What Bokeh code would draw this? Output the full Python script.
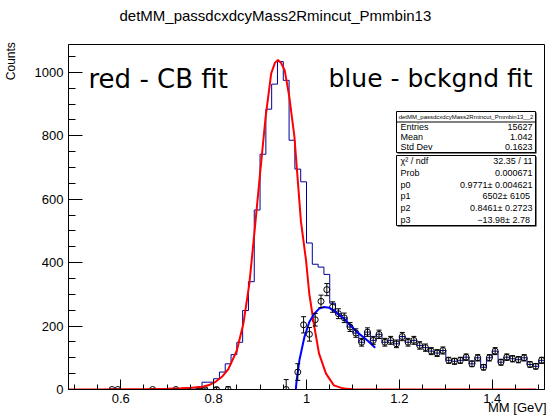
import numpy as np
from bokeh.plotting import figure
from bokeh.models import (Range1d, FixedTicker, CustomJSTickFormatter, Label, Title,
                          BoxAnnotation, ColumnDataSource, Whisker, TeeHead)
from bokeh.embed import file_html
from bokeh.resources import INLINE

# ---------------- data ----------------
title_text = "detMM_passdcxdcyMass2Rmincut_Pmmbin13"
x_label = "MM [GeV]"
y_label = "Counts"

x_lo, x_hi = 0.4875, 1.5125          # histogram axis limits (82 bins of 0.0125)
y_hi = 1088

# main histogram bin contents (82 bins)
hist_counts = [0, 0, 0, 0, 0, 0, 0, 1, 1, 0,
               0, 0, 0, 0, 1, 0, 1, 1, 2, 2,
               3, 5, 7, 23, 23, 34, 55, 81, 110, 149,
               249, 340, 566, 742, 884, 963, 1034, 975, 786, 695,
               655, 462, 395, 386, 363, 272,
               239, 226, 197, 178, 149, 181, 155, 174, 149, 155,
               144, 167, 149, 155, 139, 132, 121, 115, 123, 92,
               89, 92, 102, 81, 100, 70, 100, 121, 86, 102,
               97, 94, 100, 79, 73, 92]

# residual (histogram minus CB fit) points, None = not drawn
N = None
resid = [N, N, N, N, N, N, N, 0, 0, N,
         N, N, N, N, 0, N, N, N, 0, N,
         N, N, 0, 0, N, 0, N, 0, N, N,
         N, N, N, N, N, N, N, 0, N, 55,
         204, 174, 220, 278, 315, 260,
         239, 226, 197, 178, 149, 181, 155, 174, 149, 155,
         144, 167, 149, 155, 139, 132, 121, 115, 123, 92,
         89, 92, 102, 81, 100, 70, 100, 121, 86, 102,
         97, 94, 100, 79, 73, 92]

# red Crystal-Ball fit curve
cb_x = [0.4875, 0.55, 0.60, 0.65, 0.70, 0.73, 0.75, 0.775, 0.79, 0.803, 0.818,
        0.832, 0.85, 0.864, 0.877, 0.889, 0.900, 0.912, 0.924, 0.932, 0.9385,
        0.945, 0.953, 0.963, 0.974, 0.988, 0.999, 1.006, 1.017, 1.027, 1.042,
        1.059, 1.075, 1.088, 1.10, 1.2, 1.3, 1.4, 1.495]
cb_y = [0, 0, 0.5, 1, 2.5, 4, 5.5, 8, 14, 23, 40,
        65, 123, 207, 334, 512, 681, 860, 997, 1030, 1039,
        1030, 1007, 923, 797, 530, 407, 302, 197, 113, 50,
        13, 5, 2, 0.5, 0, 0, 0, 0]

# blue background fit curve
bg_x = [0.9771, 0.978, 0.979, 0.9847, 0.9954, 1.006, 1.0167, 1.0273, 1.038,
        1.0487, 1.063, 1.0807, 1.095, 1.109, 1.1306, 1.148]
bg_y = [0, 17, 32, 92, 165, 213, 239, 255, 260,
        258, 244, 223, 202, 181, 155, 132]

x_ticks = [0.6, 0.8, 1, 1.2, 1.4]
x_minor = [0.5, 0.55, 0.65, 0.7, 0.75, 0.85, 0.9, 0.95, 1.05, 1.1, 1.15,
           1.25, 1.3, 1.35, 1.45, 1.5]
y_ticks = [0, 200, 400, 600, 800, 1000]
y_minor = [50, 100, 150, 250, 300, 350, 450, 500, 550, 650, 700, 750,
           850, 900, 950, 1050]

stats1_title = "detMM_passdcxdcyMass2Rmincut_Pmmbin13__2"
stats1_names = ["Entries", "Mean", "Std Dev"]
stats1_vals = ["15627", "1.042", "0.1623"]
stats2_names = ["\u03c7\u00b2 / ndf", "Prob", "p0", "p1", "p2", "p3"]
stats2_vals = ["32.35 / 11", "0.000671", "0.9771\u00b1 0.004621",
               "6502\u00b1  6105", "0.8461\u00b1 0.2723", "\u221213.98\u00b1  2.78"]

red_note = "red - CB fit"
blue_note = "blue - bckgnd fit"

# ---------------- layout ----------------
W, H = 548, 419
FL, FR, FT, FB = 66, 4, 44, 30
FW = W - FL - FR
FH = H - FT - FB

def sx(rx):   # page pixel x -> frame-relative screen x
    return rx - FL

def sy(ry):   # page pixel y -> frame-relative screen y (from bottom)
    return (FT + FH) - ry

p = figure(width=W, height=H, x_range=Range1d(x_lo, x_hi), y_range=Range1d(0, y_hi),
           output_backend="svg", toolbar_location=None,
           min_border_left=FL, min_border_right=FR, min_border_top=FT, min_border_bottom=FB)
p.xgrid.visible = False
p.ygrid.visible = False
p.outline_line_color = "black"
p.outline_line_width = 1
p.outline_line_alpha = 1
p.background_fill_color = "white"
p.border_fill_color = "white"

# empty default title; a spacer title next to the frame pushes the real title up
p.title.text = ""
p.add_layout(Title(text="\u00a0", text_font_size="1px", standoff=16), "above")
p.add_layout(Title(text=title_text, align="left", offset=117 - FL, vertical_align="top",
                   standoff=0, text_font="Liberation Sans", text_font_size="15px",
                   text_font_style="normal", text_color="black"), "above")

# x-axis title, right-aligned under the frame
p.add_layout(Title(text=x_label, align="right", offset=-2, vertical_align="top",
                   standoff=-11, text_font="Liberation Sans", text_font_size="13px",
                   text_font_style="normal", text_color="black"), "below")

fmt = CustomJSTickFormatter(code="return tick.toString();")
xa = p.xaxis[0]
xa.ticker = FixedTicker(ticks=x_ticks, minor_ticks=x_minor)
xa.formatter = fmt
xa.major_tick_in, xa.major_tick_out = 10, 0
xa.minor_tick_in, xa.minor_tick_out = 5, 0
xa.major_label_standoff = 4
ya = p.yaxis[0]
ya.ticker = FixedTicker(ticks=y_ticks, minor_ticks=y_minor)
ya.formatter = fmt
ya.major_tick_in, ya.major_tick_out = 14, 0
ya.minor_tick_in, ya.minor_tick_out = 7, 0
ya.major_label_standoff = 5
# y title at the top end of the axis (padding after the word pushes it down)
ya.axis_label = y_label + "\u00a0" * 10
ya.axis_label_align = "end"
ya.axis_label_standoff = 14
ya.axis_label_text_font_size = "12px"
for ax in (xa, ya):
    ax.axis_line_color = "black"
    ax.major_tick_line_color = "black"
    ax.minor_tick_line_color = "black"
    ax.major_label_text_font = "Liberation Sans"
    ax.major_label_text_font_size = "13px"
    ax.major_label_text_color = "black"
    ax.axis_label_text_font = "Liberation Sans"
    ax.axis_label_text_font_style = "normal"
    ax.axis_label_text_color = "black"

# histogram outline
counts = np.array(hist_counts, dtype=float)
edges = np.linspace(x_lo, x_hi, len(counts) + 1)
centers = 0.5 * (edges[:-1] + edges[1:])
p.line(np.repeat(edges, 2)[1:-1], np.repeat(counts, 2), line_color="#000099", line_width=1)

# residual points with error bars
mask = np.array([r is not None for r in resid])
rx = centers[mask]
ry = np.array([r for r in resid if r is not None], dtype=float)
rerr = np.sqrt(counts[mask])
src = ColumnDataSource(dict(x=rx, y=ry, lo=ry - rerr, hi=ry + rerr))
p.add_layout(Whisker(source=src, base="x", lower="lo", upper="hi", dimension="height",
                     line_color="black", line_width=1,
                     lower_head=TeeHead(size=5, line_color="black", line_width=1),
                     upper_head=TeeHead(size=5, line_color="black", line_width=1),
                     level="glyph"))
p.scatter("x", "y", source=src, marker="circle", size=6, fill_color=None,
          line_color="black", line_width=1)

# fits
p.line(cb_x, cb_y, line_color="#ff0000", line_width=2)
p.line(bg_x, bg_y, line_color="#0000ff", line_width=2)

# ---------------- texts ----------------
def lab(x, y, text, size, align="left", base="middle", font="Liberation Sans", angle=0.0):
    p.add_layout(Label(x=x, y=y, x_units="screen", y_units="screen", text=text,
                       text_font=font, text_font_size=size, text_align=align,
                       text_baseline=base, text_color="black", angle=angle))

lab(sx(86), sy(78), red_note, "26px", font="DejaVu Sans")
lab(sx(326), sy(78), blue_note, "25px", font="DejaVu Sans")

def sbox(l, r, t, b, color, line=None):
    p.add_layout(BoxAnnotation(left=sx(l), right=sx(r), top=sy(t), bottom=sy(b),
                               left_units="screen", right_units="screen",
                               top_units="screen", bottom_units="screen",
                               fill_color=color, fill_alpha=1,
                               line_color=line, line_width=1, line_alpha=1))

def box(l, r, t, b):
    sbox(l + 1, r + 1, t + 1, b + 1, "black")
    sbox(l, r, t, b, "white", "black")

box(394, 533, 111, 152)
sbox(394, 533, 121, 122, "black")
lab(sx(463.5), sy(116), stats1_title, "6px", align="center")
for i, (n, v) in enumerate(zip(stats1_names, stats1_vals)):
    yy = 126.4 + 10.25 * i
    lab(sx(398), sy(yy), n, "9px")
    lab(sx(530), sy(yy), v, "9px", align="right")

box(394, 533, 155, 225)
for i, (n, v) in enumerate(zip(stats2_names, stats2_vals)):
    yy = 160.8 + 11.7 * i
    lab(sx(398), sy(yy), n, "9px")
    lab(sx(530), sy(yy), v, "9px", align="right")

open("out.html", "w").write(file_html(p, INLINE))
